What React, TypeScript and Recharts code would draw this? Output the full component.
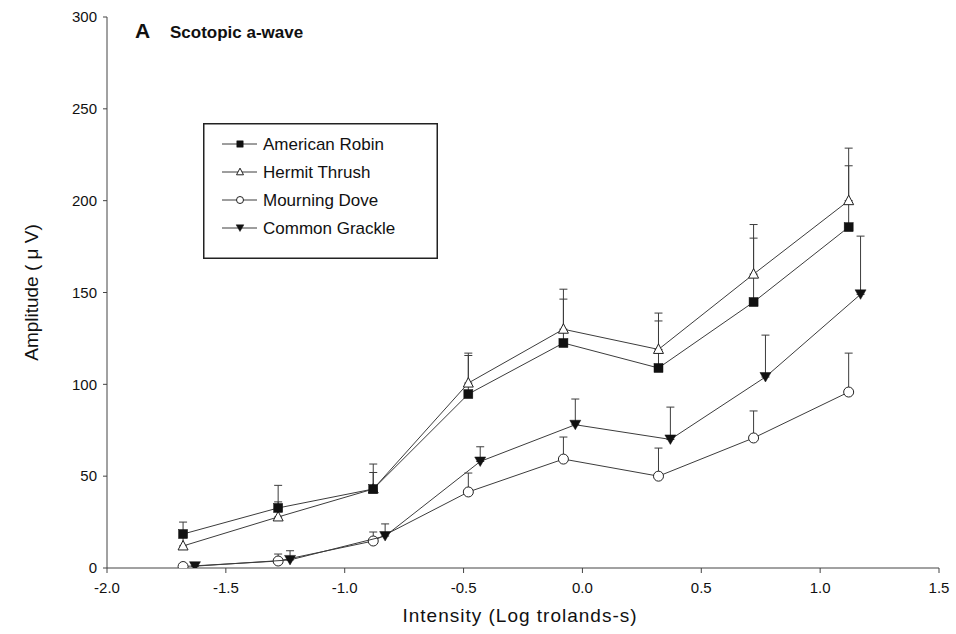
import React from 'react';
import {
  ComposedChart,
  Scatter,
  XAxis,
  YAxis,
  ErrorBar,
  Legend,
  Customized,
  Label,
} from 'recharts';

// Stimulus intensities (log trolands-s); grackle points are offset slightly to the right
const intensity = [-1.68, -1.28, -0.88, -0.48, -0.08, 0.32, 0.72, 1.12];
const grackleIntensity = [-1.63, -1.23, -0.83, -0.43, -0.03, 0.37, 0.77, 1.17];

// Mean a-wave amplitudes (µV) and upper SEM per species
const robinAmp = [18.5, 32.7, 43, 94.7, 122.5, 108.9, 144.8, 185.6];
const robinErr = [6.5, 12.3, 13.6, 21, 23.9, 25.6, 34.8, 33.4];

const thrushAmp = [12, 27.8, 43, 100.7, 130, 119, 160, 200];
const thrushErr = [5, 8.2, 9, 16.3, 21.8, 19.8, 27, 28.6];

const doveAmp = [0.8, 3.8, 14.7, 41.4, 59.3, 50, 70.8, 95.8];
const doveErr = [0, 3.8, 4.9, 10.3, 12, 15.3, 14.7, 21.2];

const grackleAmp = [1, 4.4, 17.4, 58, 78, 70, 104, 149];
const grackleErr = [0, 5, 6.6, 8, 14, 17.6, 22.8, 31.7];

const xTicks = [-2.0, -1.5, -1.0, -0.5, 0.0, 0.5, 1.0, 1.5];
const yTicks = [0, 50, 100, 150, 200, 250, 300];

const speciesNames = ['American Robin', 'Hermit Thrush', 'Mourning Dove', 'Common Grackle'];

const FONT = '"Liberation Sans", Arial, Helvetica, sans-serif';
const INK = '#222';
const LINE = '#3c3c3c';

type Pt = { x: number; y: number; err: [number, number] };

const toPoints = (xs: number[], ys: number[], es: number[]): Pt[] =>
  xs.map((x, i) => ({ x, y: ys[i], err: [0, es[i]] }));

const robinData = toPoints(intensity, robinAmp, robinErr);
const thrushData = toPoints(intensity, thrushAmp, thrushErr);
const doveData = toPoints(intensity, doveAmp, doveErr);
const grackleData = toPoints(grackleIntensity, grackleAmp, grackleErr);

// Marker glyphs, centred on (cx, cy), scaled by s
const squareMarker = (cx: number, cy: number, s = 1) => (
  <rect x={cx - 4.5 * s} y={cy - 4.5 * s} width={9 * s} height={9 * s} fill="#111" stroke="#111" strokeWidth={0.5} />
);
const triUpMarker = (cx: number, cy: number, s = 1) => (
  <path
    d={`M${cx},${cy - 5.5 * s} L${cx + 5 * s},${cy + 4 * s} L${cx - 5 * s},${cy + 4 * s} Z`}
    fill="#fff"
    stroke={INK}
    strokeWidth={1}
  />
);
const circleMarker = (cx: number, cy: number, s = 1) => (
  <circle cx={cx} cy={cy} r={5 * s} fill="#fff" stroke={INK} strokeWidth={1} />
);
const triDownMarker = (cx: number, cy: number, s = 1) => (
  <path
    d={`M${cx - 5.5 * s},${cy - 4.5 * s} L${cx + 5.5 * s},${cy - 4.5 * s} L${cx},${cy + 5 * s} Z`}
    fill="#111"
    stroke="#111"
    strokeWidth={0.5}
  />
);

const markers = [squareMarker, triUpMarker, circleMarker, triDownMarker];

const shapeOf =
  (draw: (cx: number, cy: number, s?: number) => React.ReactElement) =>
  (props: any) =>
    draw(props.cx, props.cy);

// Boxed legend in the upper-left part of the plot
const LegendBox = () => {
  const w = 235;
  const h = 136;
  const rowY = [21, 49, 77, 105];
  return (
    <svg width={w} height={h} style={{ display: 'block', overflow: 'visible' }}>
      <rect x={0.75} y={0.75} width={w - 1.5} height={h - 1.5} fill="#fff" stroke={INK} strokeWidth={1.5} />
      {speciesNames.map((name, i) => (
        <g key={name}>
          <line x1={19} x2={54} y1={rowY[i]} y2={rowY[i]} stroke={LINE} strokeWidth={1} />
          {markers[i](37, rowY[i], 0.7)}
          <text x={60} y={rowY[i]} dy="0.35em" fontSize={17} fontFamily={FONT} fill="#111">
            {name}
          </text>
        </g>
      ))}
    </svg>
  );
};

const PanelTitle = () => (
  <g fontFamily={FONT} fill="#111" fontWeight="bold">
    <text x={135} y={38} fontSize={21}>
      A
    </text>
    <text x={170} y={38} fontSize={17}>
      Scotopic a-wave
    </text>
  </g>
);

const errorBar = (
  <ErrorBar dataKey="err" direction="y" width={4} stroke={LINE} strokeWidth={1} isAnimationActive={false} />
);

const lineStyle = { stroke: LINE, strokeWidth: 1 };

export default function App() {
  return (
    <div style={{ position: 'absolute', left: 0, top: 0, background: '#fff' }}>
      <ComposedChart
        width={956}
        height={634}
        margin={{ top: 17, right: 17, bottom: 0, left: 0 }}
        style={{ fontFamily: FONT }}
      >
        <XAxis
          type="number"
          dataKey="x"
          domain={[-2, 1.5]}
          ticks={xTicks}
          tickFormatter={(v: number) => v.toFixed(1)}
          allowDataOverflow
          height={66}
          tickSize={5}
          tickMargin={9}
          axisLine={{ stroke: '#444', strokeWidth: 1 }}
          tickLine={{ stroke: '#444', strokeWidth: 1 }}
          tick={{ fill: '#111', fontSize: 15, fontFamily: FONT }}
        >
          <Label
            content={({ viewBox }: any) => (
              <text
                x={viewBox.x + viewBox.width / 2 - 3}
                y={622}
                textAnchor="middle"
                fontSize={19}
                letterSpacing={1}
                fontFamily={FONT}
                fill="#111"
              >
                Intensity (Log trolands-s)
              </text>
            )}
          />
        </XAxis>
        <YAxis
          type="number"
          domain={[0, 300]}
          ticks={yTicks}
          allowDataOverflow
          width={107}
          tickSize={4}
          tickMargin={6}
          axisLine={{ stroke: '#444', strokeWidth: 1 }}
          tickLine={{ stroke: '#444', strokeWidth: 1 }}
          tick={{ fill: '#111', fontSize: 15, fontFamily: FONT }}
        >
          <Label
            content={({ viewBox }: any) => {
              const cx = 31;
              const cy = viewBox.y + viewBox.height / 2;
              return (
                <text
                  x={cx}
                  y={cy}
                  transform={`rotate(-90 ${cx} ${cy})`}
                  textAnchor="middle"
                  dominantBaseline="central"
                  fontSize={19}
                  fontFamily={FONT}
                  fill="#111"
                >
                  Amplitude ( μ V)
                </text>
              );
            }}
          />
        </YAxis>

        <Scatter
          name={speciesNames[1]}
          data={thrushData}
          dataKey="y"
          line={lineStyle}
          lineType="joint"
          shape={shapeOf(triUpMarker)}
          isAnimationActive={false}
        >
          {errorBar}
        </Scatter>
        <Scatter
          name={speciesNames[0]}
          data={robinData}
          dataKey="y"
          line={lineStyle}
          lineType="joint"
          shape={shapeOf(squareMarker)}
          isAnimationActive={false}
        >
          {errorBar}
        </Scatter>
        <Scatter
          name={speciesNames[2]}
          data={doveData}
          dataKey="y"
          line={lineStyle}
          lineType="joint"
          shape={shapeOf(circleMarker)}
          isAnimationActive={false}
        >
          {errorBar}
        </Scatter>
        <Scatter
          name={speciesNames[3]}
          data={grackleData}
          dataKey="y"
          line={lineStyle}
          lineType="joint"
          shape={shapeOf(triDownMarker)}
          isAnimationActive={false}
        >
          {errorBar}
        </Scatter>

        <Legend
          layout="vertical"
          align="center"
          verticalAlign="middle"
          content={() => <LegendBox />}
          wrapperStyle={{ left: 203, top: 123, width: 235, height: 136 }}
        />
        <Customized component={PanelTitle} />
      </ComposedChart>
    </div>
  );
}
